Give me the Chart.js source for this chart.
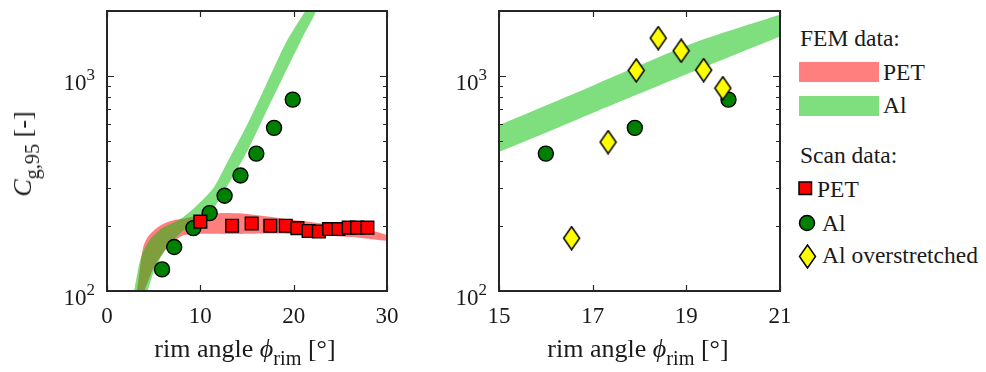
<!DOCTYPE html>
<html>
<head>
<meta charset="utf-8">
<script src="https://cdn.jsdelivr.net/npm/chart.js@4.4.0/dist/chart.umd.min.js"></script>
<style>
  html, body { margin: 0; padding: 0; background: #fff; }
  body { width: 986px; height: 372px; position: relative; overflow: hidden;
         font-family: "Liberation Serif", "DejaVu Serif", serif; color: #000; }
  canvas { position: absolute; top: 0; }
  .lbl { position: absolute; font-size: 23.5px; line-height: 24px; white-space: nowrap; color: #1a1a1a; }
  .ttl { font-size: 26px; }
  .lbl sub { font-size: 78%; line-height: 0; vertical-align: -0.4em; }
  .xt { width: 300px; text-align: center; }
  .sw { position: absolute; width: 80px; height: 20px; }
  svg { position: absolute; }
</style>
</head>
<body>
<canvas id="left" width="400" height="372" style="left:0"></canvas>
<canvas id="right" width="395" height="372" style="left:400px"></canvas>

<div class="lbl ttl xt" style="left:95px;top:337px">rim angle <i>ϕ</i><sub>rim</sub> [°]</div>
<div class="lbl ttl xt" style="left:488px;top:337px">rim angle <i>ϕ</i><sub>rim</sub> [°]</div>
<div class="lbl ttl" style="left:23px;top:154px;transform:translate(-50%,-50%) rotate(-90deg)"><i>C</i><sub>g,95</sub> [-]</div>

<!-- legend -->
<div class="lbl" style="left:800px;top:26px">FEM data:</div>
<div class="sw" style="left:799px;top:62px;background:rgba(255,0,0,0.5)"></div>
<div class="lbl" style="left:883px;top:60px">PET</div>
<div class="sw" style="left:799px;top:96px;background:rgba(0,191,0,0.5)"></div>
<div class="lbl" style="left:883px;top:93px">Al</div>
<div class="lbl" style="left:800px;top:143px">Scan data:</div>
<svg style="left:798px;top:181px" width="15" height="15"><rect x="1" y="1" width="12.5" height="12.5" fill="#ff0000" stroke="#000" stroke-width="1.5"/></svg>
<div class="lbl" style="left:817px;top:177px">PET</div>
<svg style="left:798px;top:214px" width="18" height="18"><circle cx="9" cy="9" r="7.5" fill="#008000" stroke="#000" stroke-width="1.5"/></svg>
<div class="lbl" style="left:822px;top:211px">Al</div>
<svg style="left:798px;top:244px" width="19" height="25"><path d="M9.5 1 L17.5 12.5 L9.5 24 L1.5 12.5 Z" fill="#ffff00" stroke="#000" stroke-width="1.5"/></svg>
<div class="lbl" style="left:822px;top:243px">Al overstretched</div>

<script>
const FONT = '"Liberation Serif", "DejaVu Serif", serif';

// tick positions
const xTicksLeft = [0, 10, 20, 30];
const xTicksRight = [15, 17, 19, 21];
const yTicks = [100, 1000];
const yMinorTicks = [200, 300, 400, 500, 600, 700, 800, 900];

// scan data
const petScanX = [10.0, 13.4, 15.5, 17.5, 19.15, 20.4, 21.6, 22.7, 23.8, 24.8, 25.9, 26.8, 27.9];
const petScanC = [210, 201, 206, 201, 201, 196, 190, 189, 194, 194, 197, 197, 197];
const alScanX = [5.9, 7.2, 9.25, 11.0, 12.6, 14.3, 16.0, 17.9, 19.9];
const alScanC = [126, 160, 196, 230, 277, 344, 435, 573, 775];
const alOverX = [16.55, 17.33, 17.93, 18.4, 18.89, 19.37, 19.78];
const alOverC = [176, 492, 1059, 1497, 1307, 1063, 876];

// FEM bands (upper and lower edge)
const alBandUpX = [2.9, 3.4, 3.8, 4.6, 5.9, 7.3, 8.0, 9.1, 10.5, 11.5, 13, 15, 17, 19.15, 21, 22.5];
const alBandUpC = [100, 130, 150, 173, 196, 210, 218, 238, 272, 305, 405, 591, 900, 1419, 1921, 2400];
const alBandLoX = [4.35, 5.1, 6.4, 8.5, 10.5, 11.5, 12.5, 15, 17, 19.15, 21, 22.5];
const alBandLoC = [100, 126, 159, 196, 222, 245, 288, 444, 672, 1047, 1524, 2050];
const petBandUpX = [3.2, 3.6, 3.9, 4.4, 5.5, 6.9, 8.4, 10, 12, 15, 20, 24.4, 27.3, 30.5];
const petBandUpC = [100, 135, 161, 179, 199, 212, 218, 225, 230, 228, 214, 203, 195, 179];
const petBandLoX = [4.0, 5.0, 6.4, 8.0, 9.5, 13.5, 17, 20, 24, 27, 30.5];
const petBandLoC = [100, 128, 158, 180, 184, 184, 185, 184, 180, 177, 171];

const pts = (xs, ys) => xs.map((x, i) => ({ x, y: ys[i] }));
const polygon = (ux, uy, lx, ly) => pts(ux, uy).concat(pts(lx, ly).reverse());

function diamondMarker() {
  const c = document.createElement('canvas');
  c.width = 19; c.height = 25;
  const g = c.getContext('2d');
  g.beginPath();
  g.moveTo(9.5, 1); g.lineTo(17.5, 12.5); g.lineTo(9.5, 24); g.lineTo(1.5, 12.5); g.closePath();
  g.fillStyle = '#ffff00'; g.fill();
  g.lineWidth = 1.5; g.strokeStyle = '#000'; g.stroke();
  return c;
}

// box, inward ticks and 10^n labels
const frame = {
  id: 'frame',
  afterDatasetsDraw(chart) {
    const { ctx, chartArea: a, scales: { x, y } } = chart;
    ctx.save();
    ctx.strokeStyle = '#262626';
    ctx.lineWidth = 1.2;
    ctx.beginPath();
    x.ticks.forEach(t => {
      const px = Math.round(x.getPixelForValue(t.value)) + 0.5;
      ctx.moveTo(px, a.bottom); ctx.lineTo(px, a.bottom - 6);
      ctx.moveTo(px, a.top); ctx.lineTo(px, a.top + 6);
    });
    const tick = (v, len) => {
      const py = Math.round(y.getPixelForValue(v)) + 0.5;
      ctx.moveTo(a.left, py); ctx.lineTo(a.left + len, py);
      ctx.moveTo(a.right, py); ctx.lineTo(a.right - len, py);
    };
    yTicks.forEach(v => tick(v, 7));
    yMinorTicks.forEach(v => tick(v, 4));
    ctx.stroke();
    ctx.lineWidth = 2;
    ctx.strokeRect(a.left, a.top, a.right - a.left, a.bottom - a.top);

    ctx.fillStyle = '#1a1a1a';
    ctx.textAlign = 'right';
    ctx.textBaseline = 'alphabetic';
    yTicks.forEach(v => {
      const py = y.getPixelForValue(v);
      const exp = String(Math.round(Math.log10(v)));
      ctx.font = '17px ' + FONT;
      const ew = ctx.measureText(exp).width;
      ctx.fillText(exp, a.left - 12, py + 4);
      ctx.font = '23px ' + FONT;
      ctx.fillText('10', a.left - 12 - ew, py + 14);
    });
    ctx.restore();
  }
};

function makeChart(id, xMin, xMax, xTicks, datasets, yWidth, padRight) {
  return new Chart(document.getElementById(id), {
    type: 'line',
    data: { datasets },
    options: {
      responsive: false,
      animation: false,
      events: [],
      layout: { autoPadding: false, padding: { top: 11, right: padRight, left: 0, bottom: 0 } },
      plugins: { legend: { display: false }, tooltip: { enabled: false } },
      scales: {
        x: {
          type: 'linear', min: xMin, max: xMax,
          grid: { display: false, drawTicks: true, tickLength: 12 }, border: { display: false },
          afterBuildTicks: s => { s.ticks = xTicks.map(v => ({ value: v })); },
          afterFit: s => { s.height = 81; },
          ticks: { padding: 0, color: '#1a1a1a', maxRotation: 0, autoSkip: false,
                   font: { family: FONT, size: 23 } }
        },
        y: {
          type: 'logarithmic', min: 100, max: 2000,
          grid: { display: false, drawTicks: false }, border: { display: false },
          ticks: { display: false },
          afterFit: s => { s.width = yWidth; }
        }
      }
    },
    plugins: [frame]
  });
}

const bandStyle = { fill: 'shape', borderWidth: 0, borderColor: 'rgba(0,0,0,0)', pointRadius: 0,
                    tension: 0.25, capBezierPoints: false };
const alBand = () => Object.assign({ data: polygon(alBandUpX, alBandUpC, alBandLoX, alBandLoC),
                                     backgroundColor: 'rgba(0,191,0,0.5)' }, bandStyle);
const alScan = () => ({ data: pts(alScanX, alScanC), showLine: false, pointStyle: 'circle', pointRadius: 7.5,
                        pointBackgroundColor: '#008000', pointBorderColor: '#000', pointBorderWidth: 1.4 });

makeChart('left', 0, 30, xTicksLeft, [
  { data: pts(petScanX, petScanC), showLine: false, pointStyle: 'rect', pointRadius: 9,
    pointBackgroundColor: '#ff0000', pointBorderColor: '#000', pointBorderWidth: 1.4 },
  alScan(),
  alBand(),
  Object.assign({ data: polygon(petBandUpX, petBandUpC, petBandLoX, petBandLoC),
                  backgroundColor: 'rgba(255,0,0,0.5)' }, bandStyle)
], 107, 13);

makeChart('right', 15, 21, xTicksRight, [
  { data: pts(alOverX, alOverC), showLine: false, pointStyle: diamondMarker(), pointRadius: 9 },
  alScan(),
  alBand()
], 99, 15);
</script>
</body>
</html>
